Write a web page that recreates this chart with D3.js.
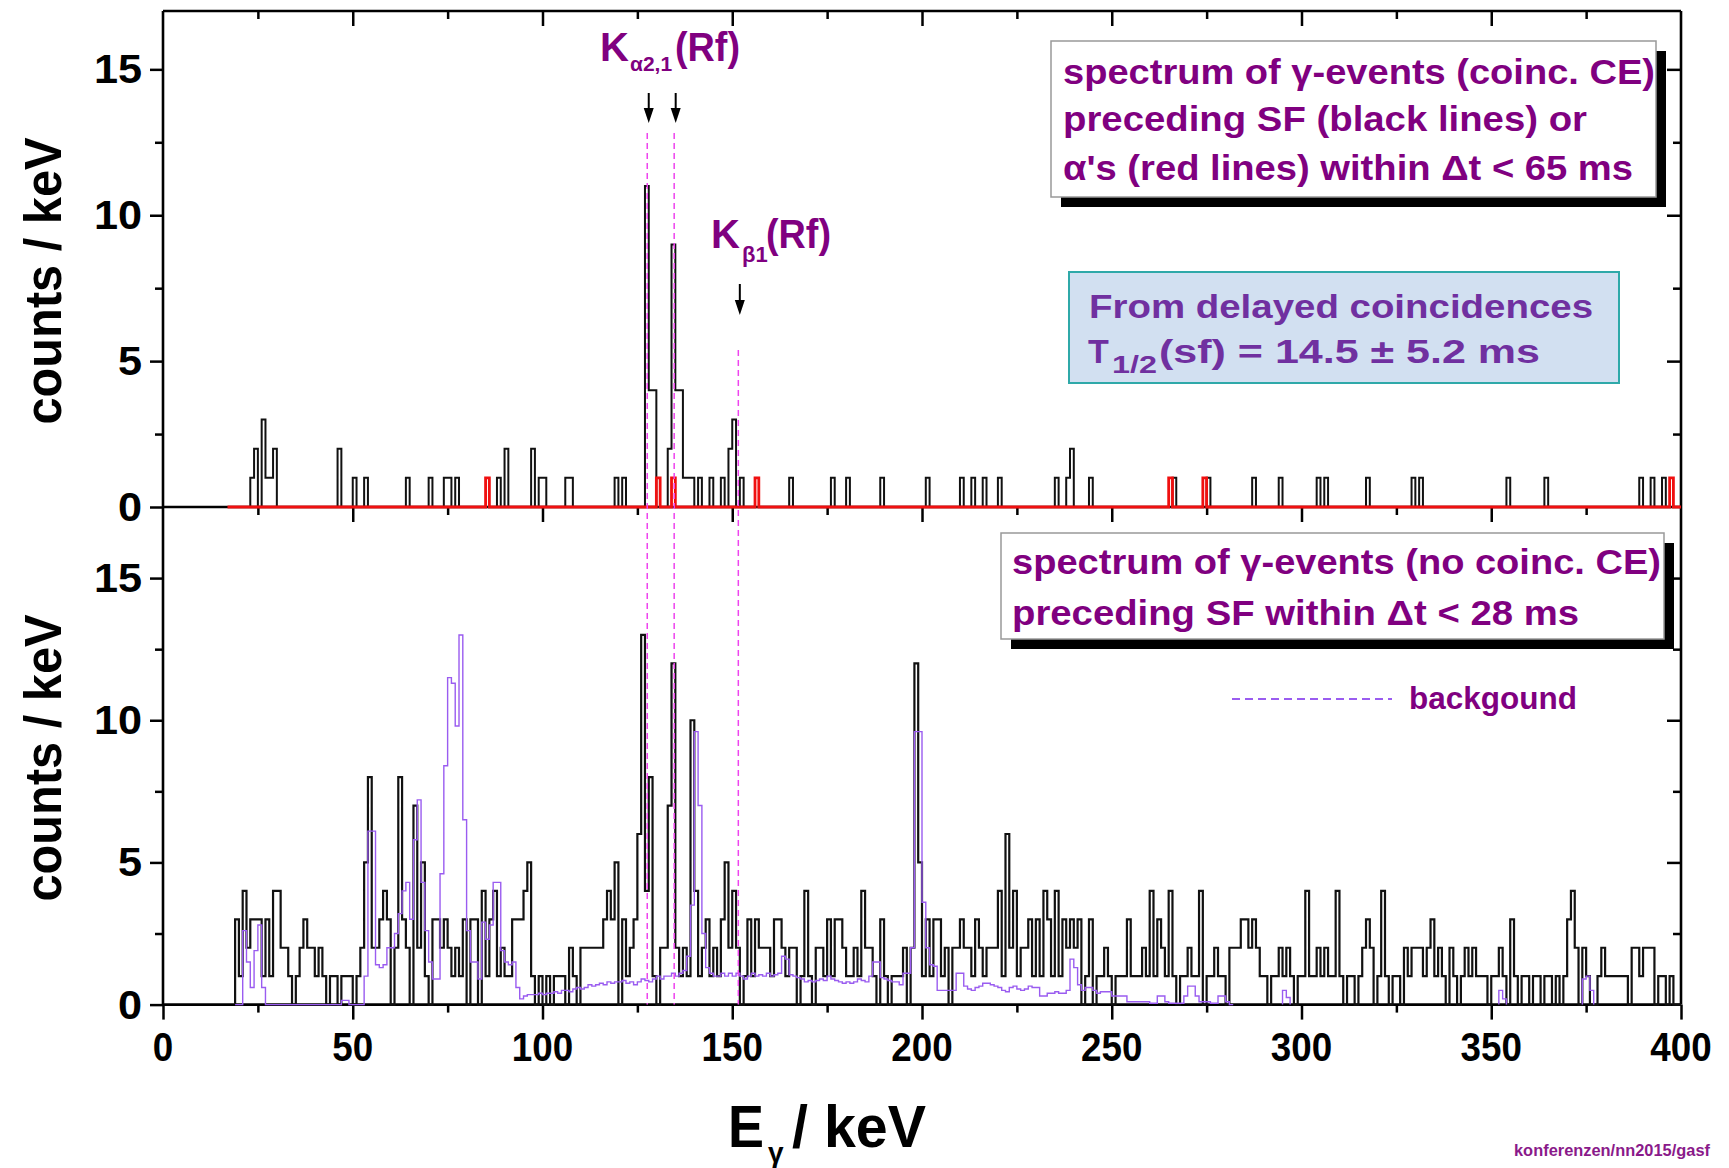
<!DOCTYPE html>
<html>
<head>
<meta charset="utf-8">
<script src="https://cdn.jsdelivr.net/npm/d3@7"></script>
<style>
  body { margin: 0; background: #fff; }
  svg { display: block; }
  text { font-family: "Liberation Sans", Arial, sans-serif; font-weight: bold; }
</style>
</head>
<body>
<svg id="chart" width="1729" height="1168"></svg>
<script>
// axis ticks
const xMajorTicks = [0, 50, 100, 150, 200, 250, 300, 350, 400];
const xMinorTicks = [25, 75, 125, 175, 225, 275, 325, 375];
const yMajorTicks = [0, 5, 10, 15];
const yMinorTicks = [2.5, 7.5, 12.5];

// top panel, black: gamma events (coinc. CE) preceding SF, 1 keV bins
const sfEnergies = [23, 24, 26, 27, 28, 29, 46, 50, 53, 64, 70, 74, 75, 77, 88, 90, 97, 99, 100, 106, 107,
  119, 121, 127, 128, 129, 133, 134, 135, 136, 137, 138, 139, 141, 144, 147, 149, 150, 152, 165, 176, 180,
  189, 201, 210, 213, 216, 220, 235, 238, 239, 244, 266, 275, 287, 294, 304, 306, 317, 329, 331, 354,
  364, 389, 392, 395];
const sfCounts = [1, 2, 3, 1, 1, 2, 2, 1, 1, 1, 1, 1, 1, 1, 1, 2, 2, 1, 1, 1, 1,
  1, 1, 11, 4, 4, 2, 9, 4, 4, 1, 1, 1, 1, 1, 1, 2, 3, 1, 1, 1, 1,
  1, 1, 1, 1, 1, 1, 1, 1, 2, 1, 1, 1, 1, 1, 1, 1, 1, 1, 1, 1,
  1, 1, 1, 1];
// top panel, red: gamma events preceding alphas
const alphaEnergies = [85, 130, 134, 156, 265, 274, 397];
const alphaCounts = [1, 1, 1, 1, 1, 1, 1];
const topRange = [17, 400];

// bottom panel, black: gamma events (no coinc. CE) preceding SF, first bin at 19 keV
const noCoincStart = 19;
const noCoincCounts = [
  3, 1, 4, 2, 3, 3, 3, 1, 3, 1, 4, 4, 2, 2, 1, 0, 1, 2, 3, 2, 2, 1, 2, 1, 0, 1, 1, 0, 1, 1, 1,   // 19-49
  0, 1, 2, 5, 8, 2, 2, 3, 4, 3, 0, 2, 8, 3, 2, 0, 7, 2, 5, 1,                                     // 50-69
  0, 3, 3, 2, 3, 2, 1, 2, 1, 3, 0, 3, 3, 0, 4, 1, 3, 4, 1, 2,                                     // 70-89
  1, 1, 3, 3, 3, 4, 5, 1, 0, 1, 0, 1, 0, 1, 1, 1, 0, 2, 1, 0,                                     // 90-109
  2, 2, 2, 2, 2, 2, 3, 4, 3, 5, 0, 3, 1, 2, 3, 6, 13, 4, 8, 1,                                    // 110-129
  0, 2, 2, 7, 12, 2, 1, 2, 1, 10, 4, 1, 2, 3, 1, 2, 1, 3, 5, 2,                                   // 130-149
  4, 2, 0, 1, 3, 1, 3, 2, 2, 2, 1, 3, 3, 2, 1, 2, 2, 0, 1, 4,                                     // 150-169
  1, 0, 2, 2, 1, 3, 1, 3, 3, 2, 1, 1, 2, 1, 4, 2, 2, 1, 0, 3,                                     // 170-189
  1, 0, 1, 1, 1, 2, 0, 2, 12, 5, 1, 3, 1, 3, 3, 1, 2, 0, 2, 2,                                    // 190-209
  3, 2, 2, 1, 3, 2, 1, 2, 2, 2, 4, 1, 6, 2, 4, 1, 2, 2, 3, 1,                                     // 210-229
  3, 1, 4, 3, 1, 4, 1, 3, 2, 3, 2, 3, 0, 1, 3, 0, 1, 1, 2, 1,                                     // 230-249
  0, 1, 1, 1, 3, 1, 1, 1, 2, 1, 4, 1, 3, 2, 1, 4, 1, 0, 1, 1,                                     // 250-269
  2, 1, 1, 4, 0, 1, 1, 2, 1, 1, 0, 2, 2, 2, 3, 3, 2, 3, 2, 1,                                     // 270-289
  1, 0, 1, 1, 2, 1, 2, 1, 0, 1, 1, 4, 1, 1, 2, 1, 2, 1, 1, 4,                                     // 290-309
  1, 0, 1, 1, 0, 1, 2, 3, 2, 0, 1, 4, 1, 0, 1, 1, 0, 2, 1, 2,                                     // 310-329
  2, 2, 1, 2, 3, 1, 2, 1, 0, 2, 1, 0, 1, 2, 1, 2, 1, 1, 1, 0,                                     // 330-349
  1, 1, 2, 1, 0, 3, 1, 0, 1, 1, 0, 1, 1, 0, 1, 1, 0, 1, 0, 1,                                     // 350-369
  3, 4, 2, 0, 2, 1, 0, 0, 1, 2, 1, 1, 1, 1, 1, 1, 0, 2, 2, 1,                                     // 370-389
  2, 2, 2, 0, 1, 1, 0, 1, 0, 0                                                                    // 390-399
];

// bottom panel, violet: background spectrum, first bin at 19 keV
const bgStart = 19;
const bgCounts = [
  0, 0, 2.6, 1.5, 0.6, 1.9, 2.8, 0.6, 0, 0, 0, 0, 0, 0, 0, 0, 0, 0, 0,                           // 19-37
  0, 0, 0, 0, 0, 0, 0, 0, 0, 0.15, 0.15, 0, 0, 0, 0,                                              // 38-52
  1, 6.1, 6.1, 1.4, 1.3, 1.4, 2, 2, 2.5, 3.2, 4, 4.3, 3, 5.8, 7.2, 4.3, 2.6, 1.5, 0.9, 0.9,      // 53-72
  4.6, 8.4, 11.5, 11.3, 9.8, 13, 6.5, 2.6, 1.5, 1.5, 0.9, 2.9, 2.3, 2.8, 4.3, 4.3, 1.9, 1.5,     // 73-90
  1.4, 1.5, 0.6, 0.2, 0.3, 0.35, 0.35, 0.35, 0.4, 0.35, 0.4, 0.4, 0.45, 0.4, 0.5, 0.5, 0.45,     // 91-107
  0.55, 0.6, 0.55, 0.6, 0.7, 0.65, 0.7, 0.75, 0.7, 0.8, 0.75, 0.8, 0.8, 0.85, 0.75, 0.8, 0.7,    // 108-124
  0.8, 0.9, 0.85, 0.8, 0.9, 1.0, 0.9, 1.0, 1.0, 1.1, 1.0, 1.1, 1.2, 1.7, 3.5, 9.6, 7, 2.5, 1.3,  // 125-143
  1.1, 1.0, 1.0, 1.1, 1.0, 1.1, 1.0, 1.1, 1.0, 0.9, 1.0, 1.1, 1.0, 1.05, 1.0, 1.1, 1.0, 1.05,   // 144-161
  1.1, 1.7, 1.6, 1.05, 1.0, 0.95, 0.9, 0.8, 0.85, 0.8, 0.85, 0.9, 0.85, 1.0, 0.9, 0.85, 0.8,    // 162-178
  0.75, 0.8, 0.75, 0.8, 0.9, 0.85, 0.8, 1.0, 1.5, 1.5, 0.95, 0.9, 0.85, 0.8, 0.8, 0.7, 1.1,     // 179-195
  1.1, 2, 9.6, 9.6, 3.6, 2.0, 1.4, 1.35, 0.5, 0.5, 0.5, 0.5, 0.5, 1.1, 1.1, 0.65, 0.55, 0.5,    // 196-213
  0.6, 0.65, 0.75, 0.75, 0.7, 0.65, 0.6, 0.5, 0.45, 0.6, 0.65, 0.55, 0.5, 0.55, 0.65, 0.6, 0.6, // 214-230
  0.3, 0.3, 0.4, 0.4, 0.45, 0.4, 0.4, 0.5, 1.6, 1.3, 0.7, 0.5, 0.6, 0.6, 0.5, 0.4, 0.45, 0.45,  // 231-248
  0.45, 0.3, 0.3, 0.3, 0.3, 0.1, 0.1, 0.1, 0.1, 0.1, 0.1, 0.05, 0.05, 0.3, 0.3, 0.1, 0.05,     // 249-265
  0.05, 0.05, 0.05, 0.3, 0.65, 0.65, 0.3, 0.1, 0.1, 0.1, 0.05, 0.05, 0.3, 0.3, 0.1, 0          // 266-281
];
// isolated background bumps above 282 keV: start energy and bin values
const bgTailStarts = [295, 352, 374];
const bgTailCounts = [[0.5, 0.25], [0.5, 0.2], [0.9, 1.0, 0.5]];

// Rf K x-ray energies marked by dashed lines (keV)
const kLines = [127.6, 134.7, 151.6];
const kLineTops = [133, 133, 350];

const left = 163, right = 1681;
const topY0 = 11, midY = 507, botY = 1004.6;

const svg = d3.select('#chart');
const x = d3.scaleLinear().domain([0, 400]).range([left, right]);
const yTop = d3.scaleLinear().domain([0, 17]).range([midY, topY0]);
const yBot = d3.scaleLinear().domain([0, 17.5]).range([botY, midY]);

function histPath(y, start, counts) {
  const pts = [[start, 0]];
  counts.forEach((c, i) => pts.push([start + i, c]));
  pts.push([start + counts.length, 0]);
  return d3.line().x(d => x(d[0])).y(d => y(d[1])).curve(d3.curveStepAfter)(pts);
}

function denseFrom(range, energies, counts) {
  const arr = d3.range(range[0], range[1]).map(() => 0);
  energies.forEach((e, i) => { arr[e - range[0]] = counts[i]; });
  return arr;
}

// ---- frame and ticks ----
const frame = svg.append('g').attr('stroke', '#000').attr('stroke-width', 2.6).attr('fill', 'none');
frame.append('line').attr('x1', left).attr('x2', right).attr('y1', topY0).attr('y2', topY0);
frame.append('line').attr('x1', left).attr('x2', right).attr('y1', midY).attr('y2', midY);
frame.append('line').attr('x1', left).attr('x2', right).attr('y1', botY).attr('y2', botY);
frame.append('line').attr('x1', left).attr('x2', left).attr('y1', topY0).attr('y2', botY);
frame.append('line').attr('x1', right).attr('x2', right).attr('y1', topY0).attr('y2', botY);

function tickSet(axisFn, scale, values, size, tx, ty) {
  svg.append('g').attr('transform', `translate(${tx},${ty})`)
    .call(axisFn(scale).tickValues(values).tickSize(size).tickFormat(''))
    .call(g => g.select('.domain').remove())
    .call(g => g.selectAll('line').attr('stroke', '#000').attr('stroke-width', 2.5));
}
[topY0, midY, botY].forEach(yy => {
  tickSet(d3.axisBottom, x, xMajorTicks.slice(1, -1), 15, 0, yy);
  tickSet(d3.axisBottom, x, xMinorTicks, 8, 0, yy);
});
tickSet(d3.axisBottom, x, [0, 400], 15, 0, botY);
[yTop, yBot].forEach(ys => {
  tickSet(d3.axisLeft, ys, yMajorTicks, 13, left, 0);
  tickSet(d3.axisLeft, ys, yMinorTicks, 8, left, 0);
  tickSet(d3.axisLeft, ys, yMajorTicks.slice(1), 14, right, 0);
  tickSet(d3.axisLeft, ys, yMinorTicks, 8, right, 0);
});

// ---- spectra (drawn over the axes, as in the original) ----
const topBlack = denseFrom(topRange, sfEnergies, sfCounts);
const topRed = denseFrom(topRange, alphaEnergies, alphaCounts);

svg.append('path').attr('d', histPath(yTop, topRange[0], topBlack))
  .attr('fill', 'none').attr('stroke', '#111').attr('stroke-width', 2);
svg.append('path').attr('d', histPath(yTop, topRange[0], topRed))
  .attr('fill', 'none').attr('stroke', '#f01010').attr('stroke-width', 2.8);

svg.append('path').attr('d', histPath(yBot, noCoincStart, noCoincCounts))
  .attr('fill', 'none').attr('stroke', '#111').attr('stroke-width', 2.2);
svg.append('path').attr('d', histPath(yBot, bgStart, bgCounts))
  .attr('fill', 'none').attr('stroke', '#9a5cf0').attr('stroke-width', 1.4);
bgTailStarts.forEach((s, i) => {
  svg.append('path').attr('d', histPath(yBot, s, bgTailCounts[i]))
    .attr('fill', 'none').attr('stroke', '#9a5cf0').attr('stroke-width', 1.4);
});

// ---- dashed K lines ----
kLines.forEach((k, i) => {
  svg.append('line')
    .attr('x1', x(k)).attr('x2', x(k))
    .attr('y1', kLineTops[i]).attr('y2', botY)
    .attr('stroke', '#ee44ee').attr('stroke-width', 1.5)
    .attr('stroke-dasharray', '6,4');
});

// ---- tick labels ----
function stretched(tx, ty, str, size, sx, anchor) {
  return svg.append('text')
    .attr('transform', `translate(${tx},${ty}) scale(${sx},1)`)
    .attr('text-anchor', anchor)
    .attr('font-size', size)
    .attr('fill', '#000')
    .text(str);
}
[yTop, yBot].forEach(ys => {
  yMajorTicks.forEach(v => stretched(142, ys(v) + 14, String(v), 40, 1.08, 'end'));
});
xMajorTicks.forEach(v => stretched(x(v), 1061, String(v), 40, 0.92, 'middle'));

// ---- axis titles ----
[281, 758].forEach(cy => {
  svg.append('text')
    .attr('transform', `translate(61,${cy}) rotate(-90)`)
    .attr('text-anchor', 'middle')
    .attr('font-size', 52)
    .attr('textLength', 287).attr('lengthAdjust', 'spacingAndGlyphs')
    .text('counts / keV');
});
svg.append('text').attr('x', 728).attr('y', 1147).attr('font-size', 60)
  .attr('textLength', 36).attr('lengthAdjust', 'spacingAndGlyphs').text('E');
svg.append('text').attr('x', 768).attr('y', 1162).attr('font-size', 28).text('γ');
svg.append('text').attr('x', 792).attr('y', 1147).attr('font-size', 60)
  .attr('textLength', 134).attr('lengthAdjust', 'spacingAndGlyphs').text('/ keV');

svg.append('text').attr('x', 1514).attr('y', 1156).attr('font-size', 17)
  .attr('font-weight', 'normal').attr('fill', '#8a1a8a')
  .attr('textLength', 196).attr('lengthAdjust', 'spacingAndGlyphs')
  .text('konferenzen/nn2015/gasf');

// ---- K x-ray labels and arrows ----
const purple = '#800080';
svg.append('text').attr('x', 600).attr('y', 61).attr('font-size', 40).attr('fill', purple).text('K');
svg.append('text').attr('x', 630).attr('y', 71).attr('font-size', 21).attr('fill', purple).text('α2,1');
svg.append('text').attr('x', 675).attr('y', 61).attr('font-size', 40).attr('fill', purple)
  .attr('textLength', 65).attr('lengthAdjust', 'spacingAndGlyphs').text('(Rf)');

svg.append('text').attr('x', 711).attr('y', 248).attr('font-size', 40).attr('fill', purple).text('K');
svg.append('text').attr('x', 742).attr('y', 262).attr('font-size', 22).attr('fill', purple)
  .attr('font-family', '"Liberation Serif", serif').attr('font-weight', 'normal').text('β1');
svg.append('text').attr('x', 766).attr('y', 248).attr('font-size', 40).attr('fill', purple)
  .attr('textLength', 65).attr('lengthAdjust', 'spacingAndGlyphs').text('(Rf)');

const arrows = [[kLines[0], 93, 123], [kLines[1], 93, 123], [kLines[2], 284, 315]];
arrows.forEach(([k, y1, y2]) => {
  const ax = x(k) + 1.5;
  svg.append('line').attr('x1', ax).attr('x2', ax).attr('y1', y1).attr('y2', y2 - 12)
    .attr('stroke', '#000').attr('stroke-width', 2);
  svg.append('path')
    .attr('d', `M${ax - 5},${y2 - 15} L${ax + 5},${y2 - 15} L${ax},${y2} Z`)
    .attr('fill', '#000');
});

// ---- legend boxes ----
function shadowBox(x0, y0, w, h) {
  svg.append('rect').attr('x', x0 + 10).attr('y', y0 + 10).attr('width', w).attr('height', h).attr('fill', '#000');
  svg.append('rect').attr('x', x0).attr('y', y0).attr('width', w).attr('height', h)
    .attr('fill', '#fff').attr('stroke', '#999').attr('stroke-width', 1.5);
}
function boxLine(tx, ty, str, len) {
  svg.append('text').attr('x', tx).attr('y', ty).attr('font-size', 35).attr('fill', purple)
    .attr('textLength', len).attr('lengthAdjust', 'spacingAndGlyphs').text(str);
}
shadowBox(1051, 41, 605, 156);
boxLine(1063, 84, 'spectrum of γ-events (coinc. CE)', 592);
boxLine(1063, 131, 'preceding SF (black lines) or', 524);
boxLine(1063, 180, 'α\'s (red lines) within Δt < 65 ms', 570);

shadowBox(1001, 533, 663, 106);
boxLine(1012, 574, 'spectrum of γ-events (no coinc. CE)', 649);
boxLine(1012, 625, 'preceding SF within Δt < 28 ms', 567);

svg.append('line').attr('x1', 1232).attr('x2', 1392).attr('y1', 699).attr('y2', 699)
  .attr('stroke', '#9a5cf0').attr('stroke-width', 2).attr('stroke-dasharray', '8,5');
svg.append('text').attr('x', 1409).attr('y', 709).attr('font-size', 31).attr('fill', purple)
  .attr('textLength', 168).attr('lengthAdjust', 'spacingAndGlyphs').text('backgound');

// half-life box
svg.append('rect').attr('x', 1069).attr('y', 272).attr('width', 550).attr('height', 111)
  .attr('fill', '#d2e0f1').attr('stroke', '#2fa9a9').attr('stroke-width', 2);
const hl = svg.append('g').attr('fill', '#7030a0').attr('font-family', '"DejaVu Sans", Verdana, sans-serif');
hl.append('text').attr('x', 1089).attr('y', 318).attr('font-size', 34)
  .attr('textLength', 504).attr('lengthAdjust', 'spacingAndGlyphs').text('From delayed coincidences');
hl.append('text').attr('x', 1088).attr('y', 363).attr('font-size', 34).text('T');
hl.append('text').attr('x', 1112).attr('y', 373).attr('font-size', 23)
  .attr('textLength', 45).attr('lengthAdjust', 'spacingAndGlyphs').text('1/2');
hl.append('text').attr('x', 1159).attr('y', 363).attr('font-size', 34)
  .attr('textLength', 381).attr('lengthAdjust', 'spacingAndGlyphs').text('(sf) = 14.5 ± 5.2 ms');
</script>
</body>
</html>
